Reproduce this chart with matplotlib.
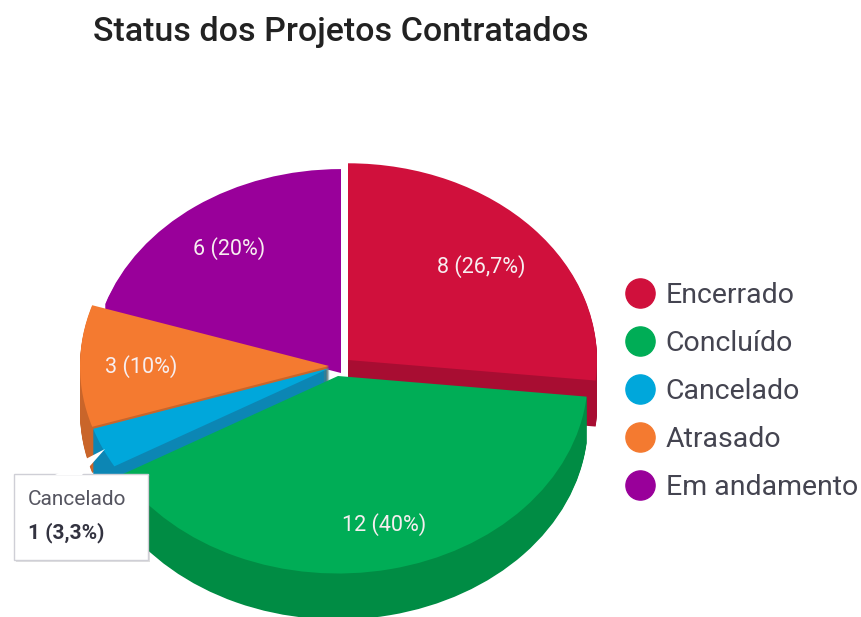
import matplotlib
matplotlib.use('Agg')
import numpy as np
from matplotlib import pyplot as plt
from matplotlib.lines import Line2D
from matplotlib.patches import Wedge, Rectangle, Polygon

plt.rcParams['font.family'] = ['Roboto', 'DejaVu Sans']

categories = ['Encerrado', 'Concluído', 'Cancelado', 'Atrasado', 'Em andamento']
values = [8, 12, 1, 3, 6]
value_labels = ['8 (26,7%)', '12 (40%)', '1 (3,3%)', '3 (10%)', '6 (20%)']

colors = ['#D0103C', '#00AD56', '#00A7DB', '#F47A30', '#99009A']
# the purple wall reads as the same colour as its top in the picture
wall_colors = ['#A80D32', '#008C44', '#0C86B4', '#C9652A', '#99009A']

# picture pixels, one exploded centre per slice
centers = [(348, 360), (338, 376), (330, 368), (329, 366), (341, 365)]
radii = [249, 250, 249, 249, 248]
label_pos = [(481, 267), (384, 525), None, (141, 367), (229, 249)]
draw_order = [4, 0, 3, 2, 1]
depths = [46, 46, 46, 46, 8]

squash = 0.79   # ry / rx of the tilted pie


def py(y):
    return y / squash


fig = plt.figure(figsize=(8.62, 6.17), dpi=100)
ax = fig.add_axes([0, 0, 1, 1])
ax.set_xlim(0, 862)
ax.set_ylim(py(617), 0)
ax.axis('off')

shares = np.array(values) / np.sum(values) * 360
ends = np.cumsum(shares)
starts = ends - shares

for i in draw_order:
    cx, cy = centers[i]
    for d in range(depths[i], 0, -1):
        ax.add_patch(Wedge((cx, py(cy + d)), radii[i], starts[i] - 90, ends[i] - 90,
                           facecolor=wall_colors[i], edgecolor='none'))
    ax.add_patch(Wedge((cx, py(cy)), radii[i], starts[i] - 90, ends[i] - 90,
                       facecolor=colors[i], edgecolor='none'))

for i in range(len(values)):
    if label_pos[i] is not None:
        ax.text(label_pos[i][0], py(label_pos[i][1]), value_labels[i], color='#F7EEF0',
                fontsize=15.5, ha='center', va='center')

ax.text(341, py(32), 'Status dos Projetos Contratados', color='#222222', fontsize=24.5,
        fontweight='medium', ha='center', va='center')

# tooltip for the hovered slice
ax.add_patch(Rectangle((16, py(476)), 134, py(86), facecolor='#000000', alpha=0.12,
                       edgecolor='none', zorder=5))
ax.add_patch(Rectangle((14, py(474)), 134, py(86), facecolor='white', edgecolor='#CFCFD6',
                       linewidth=1, zorder=6))
ax.add_patch(Polygon([(55, py(475)), (105, py(449)), (82, py(475))], facecolor='white',
                     edgecolor='none', zorder=7))
ax.text(28, py(500), categories[2], color='#555560', fontsize=15, va='center', zorder=8)
ax.text(28, py(533), value_labels[2], color='#333340', fontsize=15, fontweight='bold',
        va='center', zorder=8)

handles = [Line2D([], [], linestyle='none', marker='o', markersize=21, color=c) for c in colors]
ax.legend(handles, categories, loc='center left', bbox_to_anchor=(623 / 862, 1 - 391.5 / 617),
          frameon=False, fontsize=20.5, labelcolor='#444450', labelspacing=0.74,
          handletextpad=0.3, handlelength=1.2, borderpad=0, borderaxespad=0)

fig.savefig('out.png', dpi=100)
